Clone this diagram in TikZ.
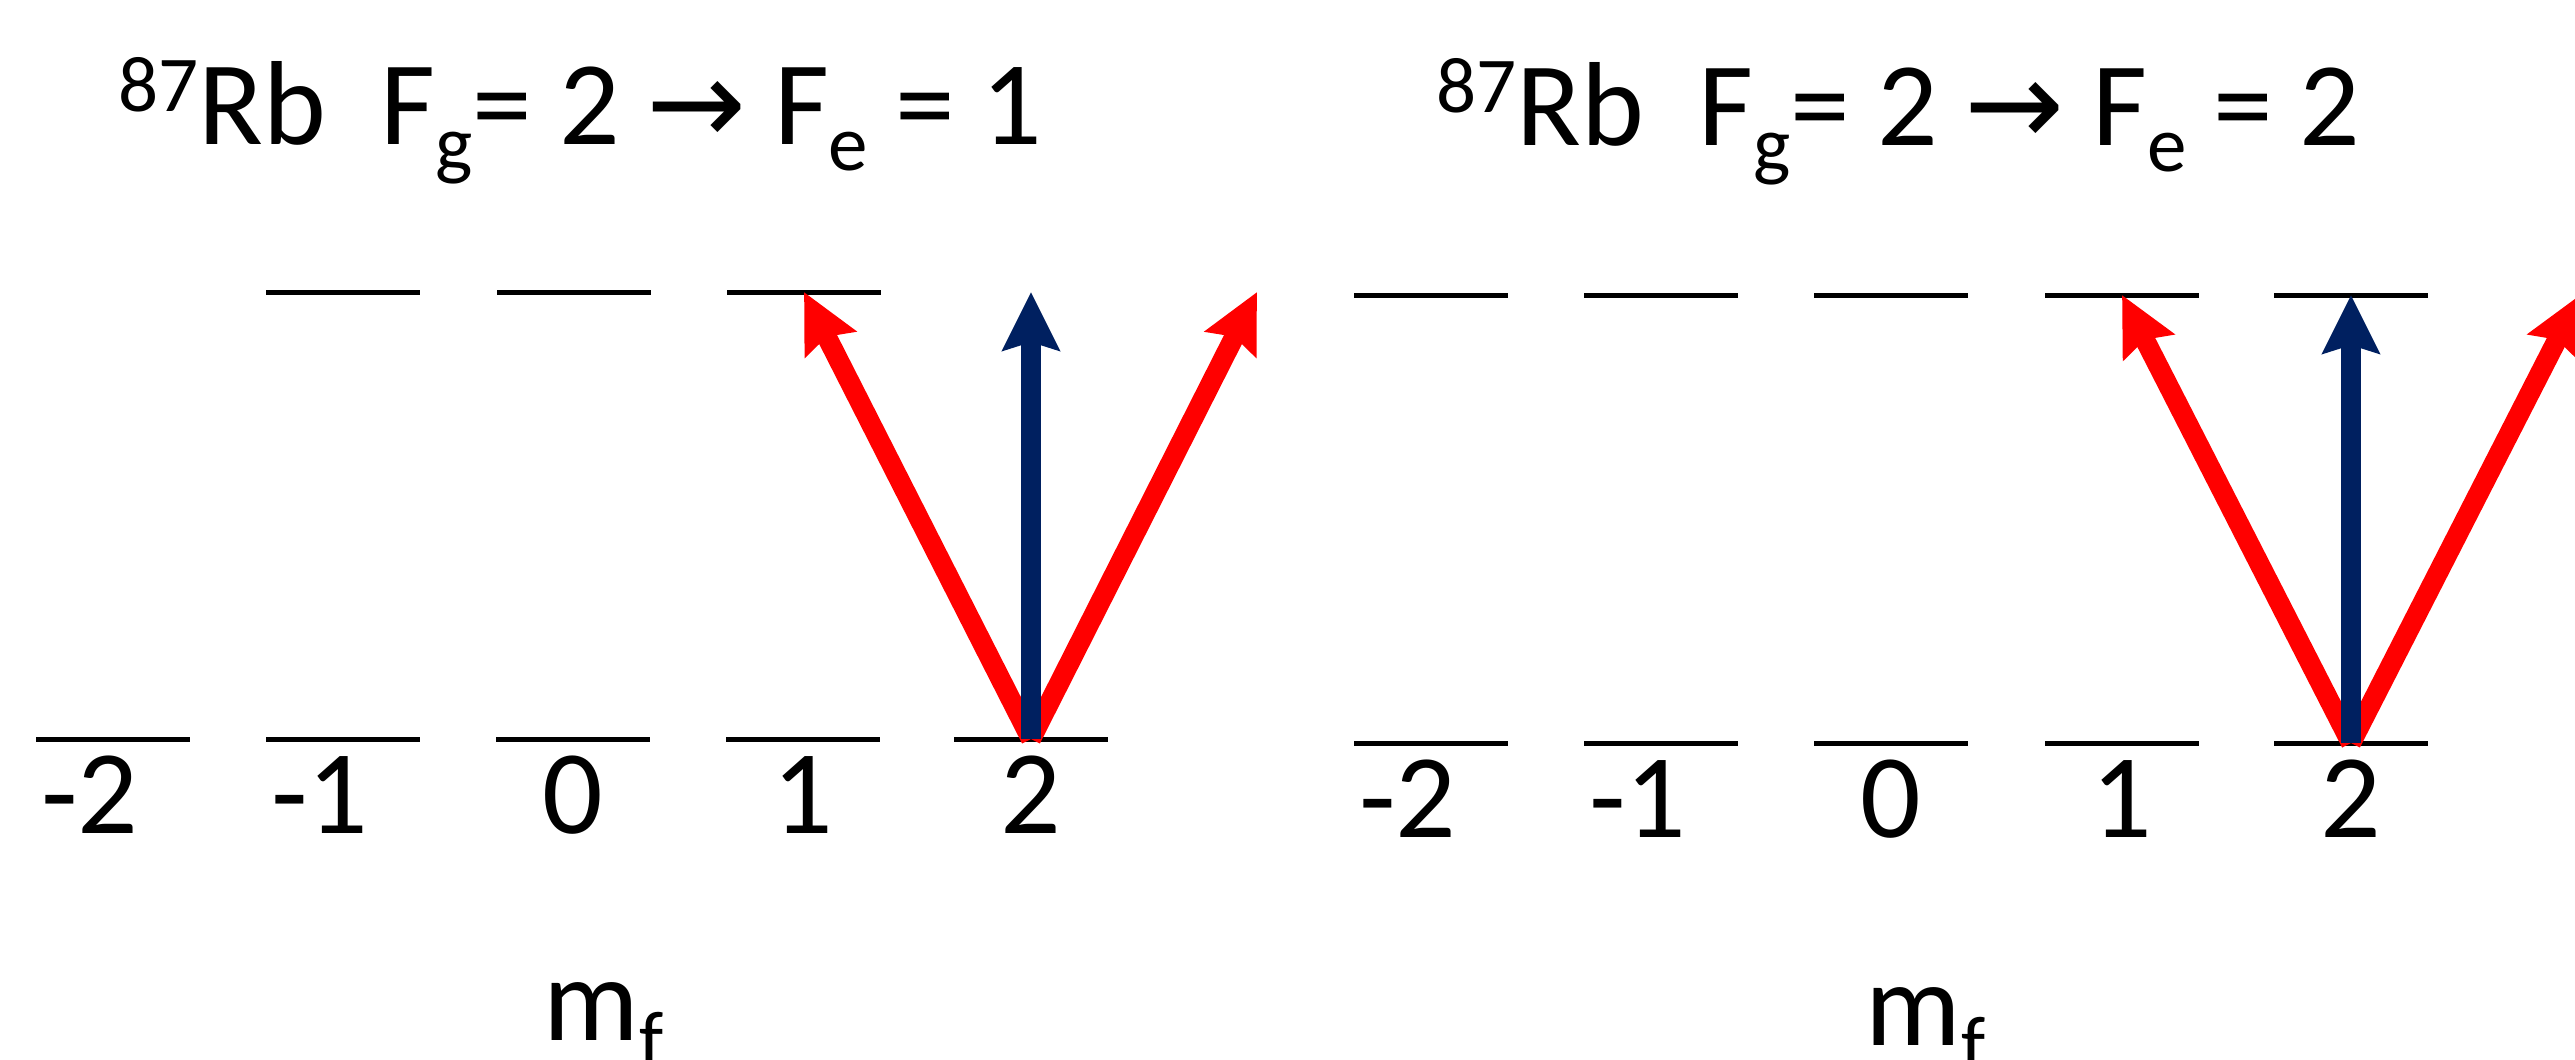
\documentclass[tikz,border=0pt]{standalone}
\usepackage{fontspec}
\setmainfont{Carlito}
\newfontfamily\arrowfont{DejaVu Sans}
\usetikzlibrary{arrows.meta}
\definecolor{navy}{RGB}{0,32,96}
\newcommand{\supx}[1]{\raisebox{0.27em}{\fontsize{22.5}{26}\selectfont #1}}
\newcommand{\subx}[1]{\raisebox{-0.22em}{\fontsize{22.5}{26}\selectfont #1}}
\begin{document}
\begin{tikzpicture}[x=0.01cm,y=-0.01cm,
  lvl/.style={black,line width=0.05cm},
  lbl/.style={anchor=base,inner sep=0pt,font=\fontsize{34}{40}\selectfont},
  ttl/.style={anchor=base west,inner sep=0pt,font=\fontsize{34}{40}\selectfont},
  sigtrans/.style={red,line width=0.2cm,-{Stealth[length=0.58cm,width=0.56cm,inset=0.08cm]}},
  pitrans/.style={navy,line width=0.2cm,-{Stealth[length=0.58cm,width=0.56cm,inset=0.08cm]}}]
\useasboundingbox (0,0) rectangle (2575,1059);
\clip (0,0) rectangle (2575,1059);

% ---------- left panel ----------
\node[ttl] (t1) at (118,144) {\supx{87}Rb\hspace{0.45em}F\subx{g}= 2 {\arrowfont →} F\subx{e} = 1};

\foreach \m/\x in {m2/113,m1/343,z/573,p1/803,p2/1031} {
  \coordinate (Lg\m) at (\x,739);
  \draw[lvl] (\x-77,739) -- (\x+77,739);
}
\foreach \m/\x in {m1/343,z/574,p1/804} {
  \coordinate (Le\m) at (\x,292);
  \draw[lvl] (\x-77,292) -- (\x+77,292);
}
\coordinate (Lep2) at (1031,292);
\coordinate (Lep3) at (1257,292);

\node[lbl] (Ll1) at (108,833) {\llap{-}2};
\node[lbl] (Ll2) at (338,833) {\llap{-}1};
\node[lbl] (Ll3) at (573,833) {0};
\node[lbl] (Ll4) at (803,833) {1};
\node[lbl] (Ll5) at (1031,833) {2};
\node[ttl] (mf1) at (543,1040) {m\subx{f}};

\draw[sigtrans] (Lgp2) -- (Lep1);
\draw[sigtrans] (Lgp2) -- (Lep3);
\draw[pitrans] (Lgp2) -- (Lep2);

% ---------- right panel ----------
\node[ttl] (t2) at (1436,145) {\supx{87}Rb\hspace{0.45em}F\subx{g}= 2 {\arrowfont →} F\subx{e} = 2};

\foreach \m/\x in {m2/1431,m1/1661,z/1891,p1/2122,p2/2351} {
  \coordinate (Rg\m) at (\x,743);
  \coordinate (Re\m) at (\x,295);
  \draw[lvl] (\x-77,743) -- (\x+77,743);
  \draw[lvl] (\x-77,295) -- (\x+77,295);
}
\coordinate (Rep3) at (2580,295);

\node[lbl] (Rl1) at (1426,837) {\llap{-}2};
\node[lbl] (Rl2) at (1656,837) {\llap{-}1};
\node[lbl] (Rl3) at (1891,837) {0};
\node[lbl] (Rl4) at (2122,837) {1};
\node[lbl] (Rl5) at (2351,837) {2};
\node[ttl] (mf2) at (1865,1045) {m\subx{f}};

\draw[sigtrans] (Rgp2) -- (Rep1);
\draw[sigtrans] (Rgp2) -- (Rep3);
\draw[pitrans] (Rgp2) -- (Rep2);
\end{tikzpicture}
\end{document}
